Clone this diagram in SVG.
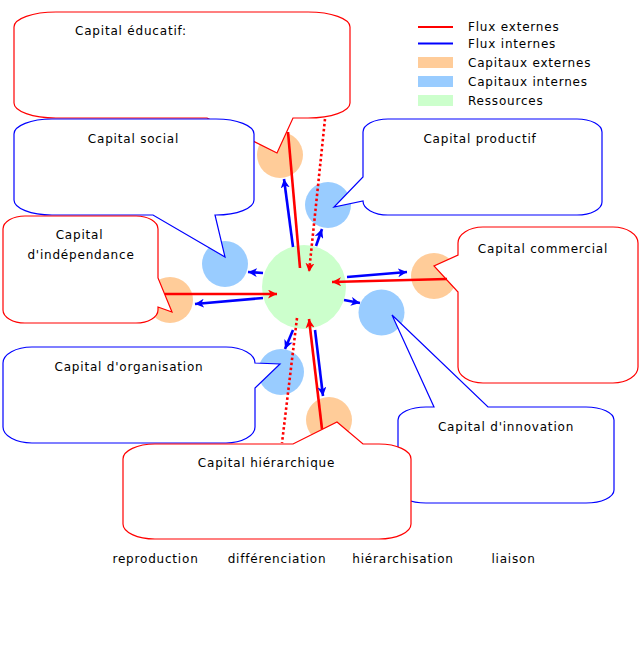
<svg xmlns="http://www.w3.org/2000/svg" width="642" height="672" viewBox="0 0 642 672">
<style>
.t{font-family:"DejaVu Sans","Liberation Sans",sans-serif;font-size:12px;fill:#000;letter-spacing:0.8px}
.m{text-anchor:middle}
.cr{fill:#fff;stroke:#f00;stroke-width:1.2}
.cb{fill:#fff;stroke:#00f;stroke-width:1.2}
.or{fill:#fc9}
.bl{fill:#9cf}
.gr{fill:#cfc}
.ar{stroke:#f00;stroke-width:2.6;fill:none}
.ab{stroke:#00f;stroke-width:2.6;fill:none}
.ad{stroke:#f00;stroke-width:2.6;fill:none;stroke-dasharray:2.5 2.5}
</style>
<defs>
<marker id="hr" markerUnits="userSpaceOnUse" markerWidth="10" markerHeight="9" refX="9" refY="4.5" orient="auto"><path d="M0,0 L9,4.5 L0,9 L2.5,4.5 Z" fill="#f00"/></marker>
<marker id="hb" markerUnits="userSpaceOnUse" markerWidth="10" markerHeight="9" refX="9" refY="4.5" orient="auto"><path d="M0,0 L9,4.5 L0,9 L2.5,4.5 Z" fill="#00f"/></marker>
</defs>
<rect width="642" height="672" fill="#fff"/>

<g id="ressources"><circle class="gr" cx="304" cy="287" r="42"/></g>

<g id="capital-educatif">
<circle class="or" cx="280" cy="155" r="23"/>
<path class="cr" d="M56,12 H308 A42,15 0 0 1 350,27 V103 A42,15 0 0 1 308,118 H293 L277,153 L207,118 H56 A42,15 0 0 1 14,103 V27 A42,15 0 0 1 56,12 Z"/>
<text class="t m" x="131" y="34.5">Capital éducatif:</text>
</g>

<g id="capital-social">
<circle class="bl" cx="225" cy="264" r="23"/>
<path class="cb" d="M52,119 H216 A38,15 0 0 1 254,134 V200 A38,15 0 0 1 216,215 H215 L225,257 L153,215 H52 A38,15 0 0 1 14,200 V134 A38,15 0 0 1 52,119 Z"/>
<text class="t m" x="133.5" y="143">Capital social</text>
</g>

<g id="capital-independance">
<circle class="or" cx="170" cy="300" r="23"/>
<path class="cr" d="M25,216 H136 A22,13 0 0 1 158,229 V278 L172,312 L158,307 V310 A22,13 0 0 1 136,323 H25 A22,13 0 0 1 3,310 V229 A22,13 0 0 1 25,216 Z"/>
<text class="t m" x="79.5" y="239">Capital</text>
<text class="t m" x="81" y="258.5">d'indépendance</text>
</g>

<g id="capital-productif">
<circle class="bl" cx="328" cy="205" r="23"/>
<path class="cb" d="M388,119 H577 A25,13 0 0 1 602,132 V202 A25,13 0 0 1 577,215 H388 A25,14 0 0 1 363,201 L334,207 L363,177 V132 A25,13 0 0 1 388,119 Z"/>
<text class="t m" x="480" y="143">Capital productif</text>
</g>

<g id="capital-commercial">
<circle class="or" cx="434" cy="276" r="23"/>
<path class="cr" d="M483,227 H613 A25,16 0 0 1 638,243 V367 A25,16 0 0 1 613,383 H483 A25,16 0 0 1 458,367 V292 L434,266 L458,255 V243 A25,16 0 0 1 483,227 Z"/>
<text class="t m" x="543" y="253">Capital commercial</text>
</g>

<g id="capital-innovation">
<circle class="bl" cx="381.5" cy="312.5" r="23"/>
<path class="cb" d="M426,407 H434 L392,315 L488,407 H586 A28,13 0 0 1 614,420 V490 A28,13 0 0 1 586,503 H426 A28,13 0 0 1 398,490 V420 A28,13 0 0 1 426,407 Z"/>
<text class="t m" x="506" y="431">Capital d'innovation</text>
</g>

<g id="capital-organisation">
<circle class="bl" cx="281" cy="372" r="23"/>
<path class="cb" d="M32,347 H226 A29,16 0 0 1 255,363 L280,364 L255,388 V427 A29,16 0 0 1 226,443 H32 A29,16 0 0 1 3,427 V363 A29,16 0 0 1 32,347 Z"/>
<text class="t m" x="129" y="371">Capital d'organisation</text>
</g>

<g id="capital-hierarchique">
<circle class="or" cx="329" cy="420" r="23"/>
<path class="cr" d="M155,444 H293 L337,422 L363,444 H379 A32,15 0 0 1 411,459 V524 A32,15 0 0 1 379,539 H155 A32,15 0 0 1 123,524 V459 A32,15 0 0 1 155,444 Z"/>
<text class="t m" x="266.5" y="467">Capital hiérarchique</text>
</g>

<g id="connectors">
<line class="ar" x1="288" y1="132" x2="300" y2="268"/>
<line class="ar" x1="165" y1="294" x2="277" y2="294" marker-end="url(#hr)"/>
<line class="ar" x1="447" y1="279" x2="332" y2="282" marker-end="url(#hr)"/>
<line class="ar" x1="322" y1="429" x2="309" y2="319" marker-end="url(#hr)"/>
<line class="ad" x1="325" y1="119" x2="309" y2="272" marker-end="url(#hr)"/>
<line class="ad" x1="297" y1="318" x2="282" y2="443"/>
<line class="ab" x1="293" y1="247" x2="284" y2="179" marker-end="url(#hb)"/>
<line class="ab" x1="316" y1="246" x2="322" y2="229" marker-end="url(#hb)"/>
<line class="ab" x1="263" y1="273" x2="248" y2="272" marker-end="url(#hb)"/>
<line class="ab" x1="263" y1="298" x2="195" y2="304" marker-end="url(#hb)"/>
<line class="ab" x1="347" y1="277" x2="407" y2="272" marker-end="url(#hb)"/>
<line class="ab" x1="344" y1="300" x2="360" y2="303" marker-end="url(#hb)"/>
<line class="ab" x1="293" y1="330" x2="285" y2="349" marker-end="url(#hb)"/>
<line class="ab" x1="315" y1="330" x2="323" y2="396" marker-end="url(#hb)"/>
</g>

<g id="legend">
<line x1="418" y1="27" x2="453" y2="27" stroke="#f00" stroke-width="2"/>
<line x1="418" y1="43.5" x2="453" y2="43.5" stroke="#00f" stroke-width="2"/>
<rect class="or" x="418" y="57" width="35" height="11"/>
<rect class="bl" x="418" y="76" width="35" height="11"/>
<rect class="gr" x="418" y="95" width="35" height="11"/>
<text class="t" x="468" y="31">Flux externes</text>
<text class="t" x="468" y="47.5">Flux internes</text>
<text class="t" x="468" y="67">Capitaux externes</text>
<text class="t" x="468" y="86">Capitaux internes</text>
<text class="t" x="468" y="104.5">Ressources</text>
</g>

<g id="bottom-labels">
<text class="t m" x="155.5" y="563">reproduction</text>
<text class="t m" x="277" y="563">différenciation</text>
<text class="t m" x="403" y="563">hiérarchisation</text>
<text class="t m" x="513.5" y="563">liaison</text>
</g>
</svg>
